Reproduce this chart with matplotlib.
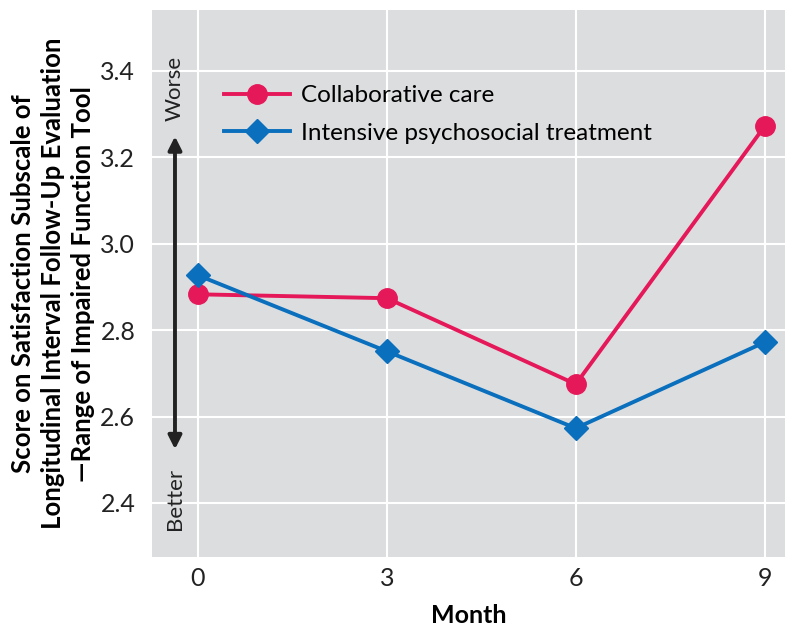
import matplotlib
matplotlib.use("Agg")
import matplotlib.pyplot as plt

months = [0, 3, 6, 9]
collab = [2.883, 2.874, 2.675, 3.272]
intensive = [2.927, 2.751, 2.573, 2.772]
series_names = ["Collaborative care", "Intensive psychosocial treatment"]
yticks = [2.4, 2.6, 2.8, 3.0, 3.2, 3.4]

plt.rcParams['font.family'] = ['Lato', 'DejaVu Sans']

fig = plt.figure(figsize=(8, 6.37), dpi=100)
ax = fig.add_axes([0.19, 0.1256, 0.791, 0.858])
ax.set_facecolor('#dcdddf')
for s in ax.spines.values():
    s.set_visible(False)
ax.grid(True, color='white', linewidth=1.5)
ax.set_axisbelow(True)

pink = '#e5185a'
blue = '#0a6fbd'
ax.plot(months, collab, color=pink, lw=2.8, marker='o', ms=14, label=series_names[0], zorder=3)
ax.plot(months, intensive, color=blue, lw=2.8, marker='D', ms=12, label=series_names[1], zorder=3)

ax.set_xlim(-0.73, 9.32)
ax.set_ylim(2.275, 3.54)
ax.set_xticks(months)
ax.set_yticks(yticks)
ax.set_yticklabels([f"{v:.1f}" for v in yticks])
ax.tick_params(axis='y', length=0, labelsize=18, pad=12, colors='#222222')
ax.tick_params(axis='x', length=0, labelsize=18, pad=7, colors='#222222')

ax.set_xlabel("Month", fontsize=18, fontweight='bold', labelpad=10)
ax.set_ylabel("Score on Satisfaction Subscale of\nLongitudinal Interval Follow-Up Evaluation\n\u2014Range of Impaired Function Tool",
              fontsize=18.5, fontweight='bold', labelpad=4, linespacing=1.3)

ax.annotate('', xy=(-0.365, 3.255), xytext=(-0.365, 2.518),
            arrowprops=dict(arrowstyle='<|-|>', color='#222222', lw=2.8, mutation_scale=20))
ax.text(-0.365, 3.36, "Worse", rotation=90, ha='center', va='center', fontsize=16, color='#222222')
ax.text(-0.365, 2.41, "Better", rotation=90, ha='center', va='center', fontsize=16, color='#222222')

ax.legend(loc='upper left', bbox_to_anchor=(0.08, 0.903), frameon=False, fontsize=17.5,
          handlelength=2.7, handletextpad=0.45, labelspacing=0.68)

fig.savefig("out.png", dpi=100)
